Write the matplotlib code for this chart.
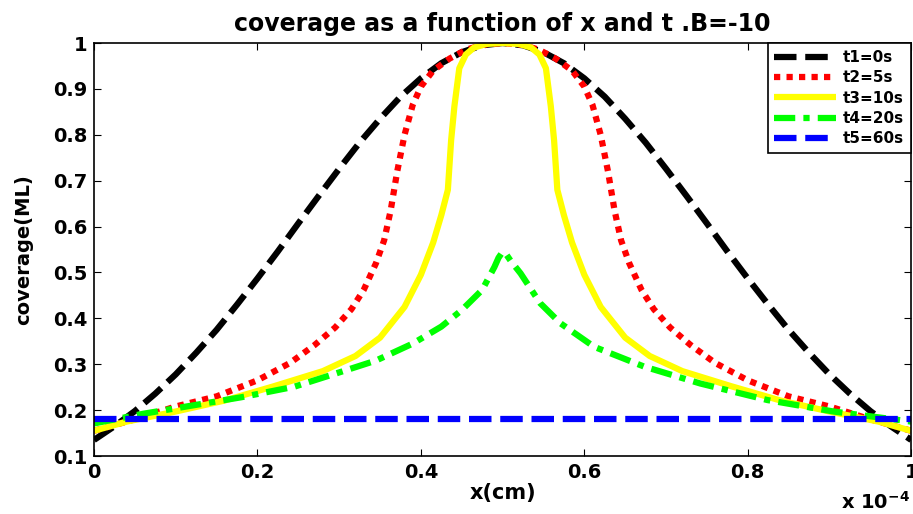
import matplotlib
matplotlib.use('Agg')
import matplotlib.pyplot as plt

# x in units of 1e-4 cm
x_t1 = [0, 0.025, 0.05, 0.075, 0.1, 0.125, 0.15, 0.175, 0.2, 0.225, 0.25, 0.275, 0.3, 0.325, 0.35,
        0.375, 0.4, 0.425, 0.45, 0.475, 0.5, 0.525, 0.55, 0.575, 0.6, 0.625, 0.65, 0.675, 0.7,
        0.725, 0.75, 0.775, 0.8, 0.825, 0.85, 0.875, 0.9, 0.925, 0.95, 0.975, 1.0]
y_t1 = [0.135, 0.165, 0.198, 0.236, 0.278, 0.325, 0.375, 0.430, 0.487, 0.546, 0.607, 0.667, 0.726,
        0.783, 0.835, 0.883, 0.923, 0.956, 0.980, 0.995, 1.0, 0.995, 0.980, 0.956, 0.923, 0.883,
        0.835, 0.783, 0.726, 0.667, 0.607, 0.546, 0.487, 0.430, 0.375, 0.325, 0.278, 0.236,
        0.198, 0.165, 0.135]

x_t2 = [0, 0.05, 0.1, 0.15, 0.2, 0.24, 0.27, 0.295, 0.315, 0.33, 0.345, 0.355, 0.363, 0.371, 0.38,
        0.39, 0.4, 0.415, 0.435, 0.455, 0.475, 0.5, 0.525, 0.545, 0.565, 0.585, 0.6, 0.61, 0.62,
        0.629, 0.637, 0.645, 0.655, 0.67, 0.685, 0.705, 0.73, 0.76, 0.8, 0.85, 0.9, 0.95, 1.0]
y_t2 = [0.155, 0.180, 0.208, 0.230, 0.265, 0.303, 0.342, 0.380, 0.420, 0.462, 0.520, 0.570, 0.635,
        0.720, 0.800, 0.865, 0.905, 0.940, 0.966, 0.985, 0.996, 1.0, 0.996, 0.985, 0.966, 0.940,
        0.905, 0.865, 0.800, 0.720, 0.635, 0.570, 0.520, 0.462, 0.420, 0.380, 0.342, 0.303,
        0.265, 0.230, 0.208, 0.180, 0.155]

x_t3 = [0, 0.04, 0.1, 0.16, 0.22, 0.28, 0.32, 0.35, 0.38, 0.4, 0.415, 0.425, 0.433, 0.437, 0.441,
        0.447, 0.455, 0.465, 0.48, 0.5, 0.52, 0.535, 0.545, 0.553, 0.559, 0.563, 0.567, 0.575,
        0.585, 0.6, 0.62, 0.65, 0.68, 0.72, 0.78, 0.84, 0.9, 0.96, 1.0]
y_t3 = [0.155, 0.175, 0.197, 0.221, 0.252, 0.285, 0.318, 0.358, 0.425, 0.495, 0.565, 0.625, 0.680,
        0.788, 0.862, 0.945, 0.975, 0.990, 0.998, 1.0, 0.998, 0.990, 0.975, 0.945, 0.862, 0.788,
        0.680, 0.625, 0.565, 0.495, 0.425, 0.358, 0.318, 0.285, 0.252, 0.221, 0.197, 0.175, 0.155]

x_t4 = [0, 0.06, 0.12, 0.18, 0.245, 0.305, 0.345, 0.39, 0.425, 0.45, 0.475, 0.49, 0.495, 0.5,
        0.505, 0.51, 0.522, 0.546, 0.571, 0.612, 0.673, 0.742, 0.824, 0.905, 1.0]
y_t4 = [0.171, 0.192, 0.210, 0.228, 0.251, 0.285, 0.308, 0.345, 0.382, 0.418, 0.462, 0.512, 0.532,
        0.545, 0.538, 0.525, 0.498, 0.433, 0.389, 0.338, 0.295, 0.258, 0.222, 0.197, 0.175]

x_t5 = [0, 1.0]
y_t5 = [0.181, 0.181]

labels = ['t1=0s', 't2=5s', 't3=10s', 't4=20s', 't5=60s']
xticks = [0, 0.2, 0.4, 0.6, 0.8, 1.0]
xticklabels = ['0', '0.2', '0.4', '0.6', '0.8', '1']
yticks = [0.1, 0.2, 0.3, 0.4, 0.5, 0.6, 0.7, 0.8, 0.9, 1.0]
yticklabels = ['0.1', '0.2', '0.3', '0.4', '0.5', '0.6', '0.7', '0.8', '0.9', '1']

plt.rcParams['font.family'] = ['DejaVu Sans']
plt.rcParams['font.weight'] = 'bold'
plt.rcParams['mathtext.default'] = 'bf'

fig = plt.figure(figsize=(9.13, 5.14), dpi=100, facecolor='white')
ax = fig.add_axes([0.103, 0.1128, 0.895, 0.8035])

lw = 4.5
ax.plot(x_t1, y_t1, color='black', linewidth=lw, dashes=(3.6, 1.4), label=labels[0])
ax.plot(x_t2, y_t2, color='red', linewidth=lw, dashes=(1.0, 1.0), label=labels[1])
ax.plot(x_t3, y_t3, color=(1, 1, 0), linewidth=lw, linestyle='solid', label=labels[2])
ax.plot(x_t4, y_t4, color=(0, 1, 0), linewidth=lw, dashes=(3.4, 1.3, 1.0, 1.3), label=labels[3])
ax.plot(x_t5, y_t5, color='blue', linewidth=lw, dashes=(3.6, 1.4), label=labels[4])
for line in ax.get_lines():
    line.set_dash_capstyle('butt')
    line.set_solid_capstyle('butt')

ax.set_xlim(0, 1)
ax.set_ylim(0.1, 1)
ax.set_xticks(xticks)
ax.set_xticklabels(xticklabels)
ax.set_yticks(yticks)
ax.set_yticklabels(yticklabels)
ax.tick_params(direction='in', length=5, width=0.8, top=True, right=True,
               labelsize=14, pad=5)
for s in ax.spines.values():
    s.set_linewidth(1.2)

ax.set_title('coverage as a function of x and t .B=-10', fontsize=17, fontweight='bold', pad=9)
ax.set_xlabel('x(cm)', fontsize=15, fontweight='bold', labelpad=1)
ax.set_ylabel('coverage(ML)', fontsize=14, fontweight='bold', labelpad=14)
ax.text(0.998, -0.085, 'x 10$^{-4}$', transform=ax.transAxes, ha='right', va='top',
        fontsize=14, fontweight='bold')

legend = ax.legend(loc='upper right', borderaxespad=0, fontsize=11, handlelength=4.0,
                   handletextpad=0.5, labelspacing=0.35, borderpad=0.45,
                   fancybox=False, framealpha=1)
legend.get_frame().set_edgecolor('black')
legend.get_frame().set_linewidth(1.2)

fig.savefig('out.png', dpi=100, facecolor='white')
